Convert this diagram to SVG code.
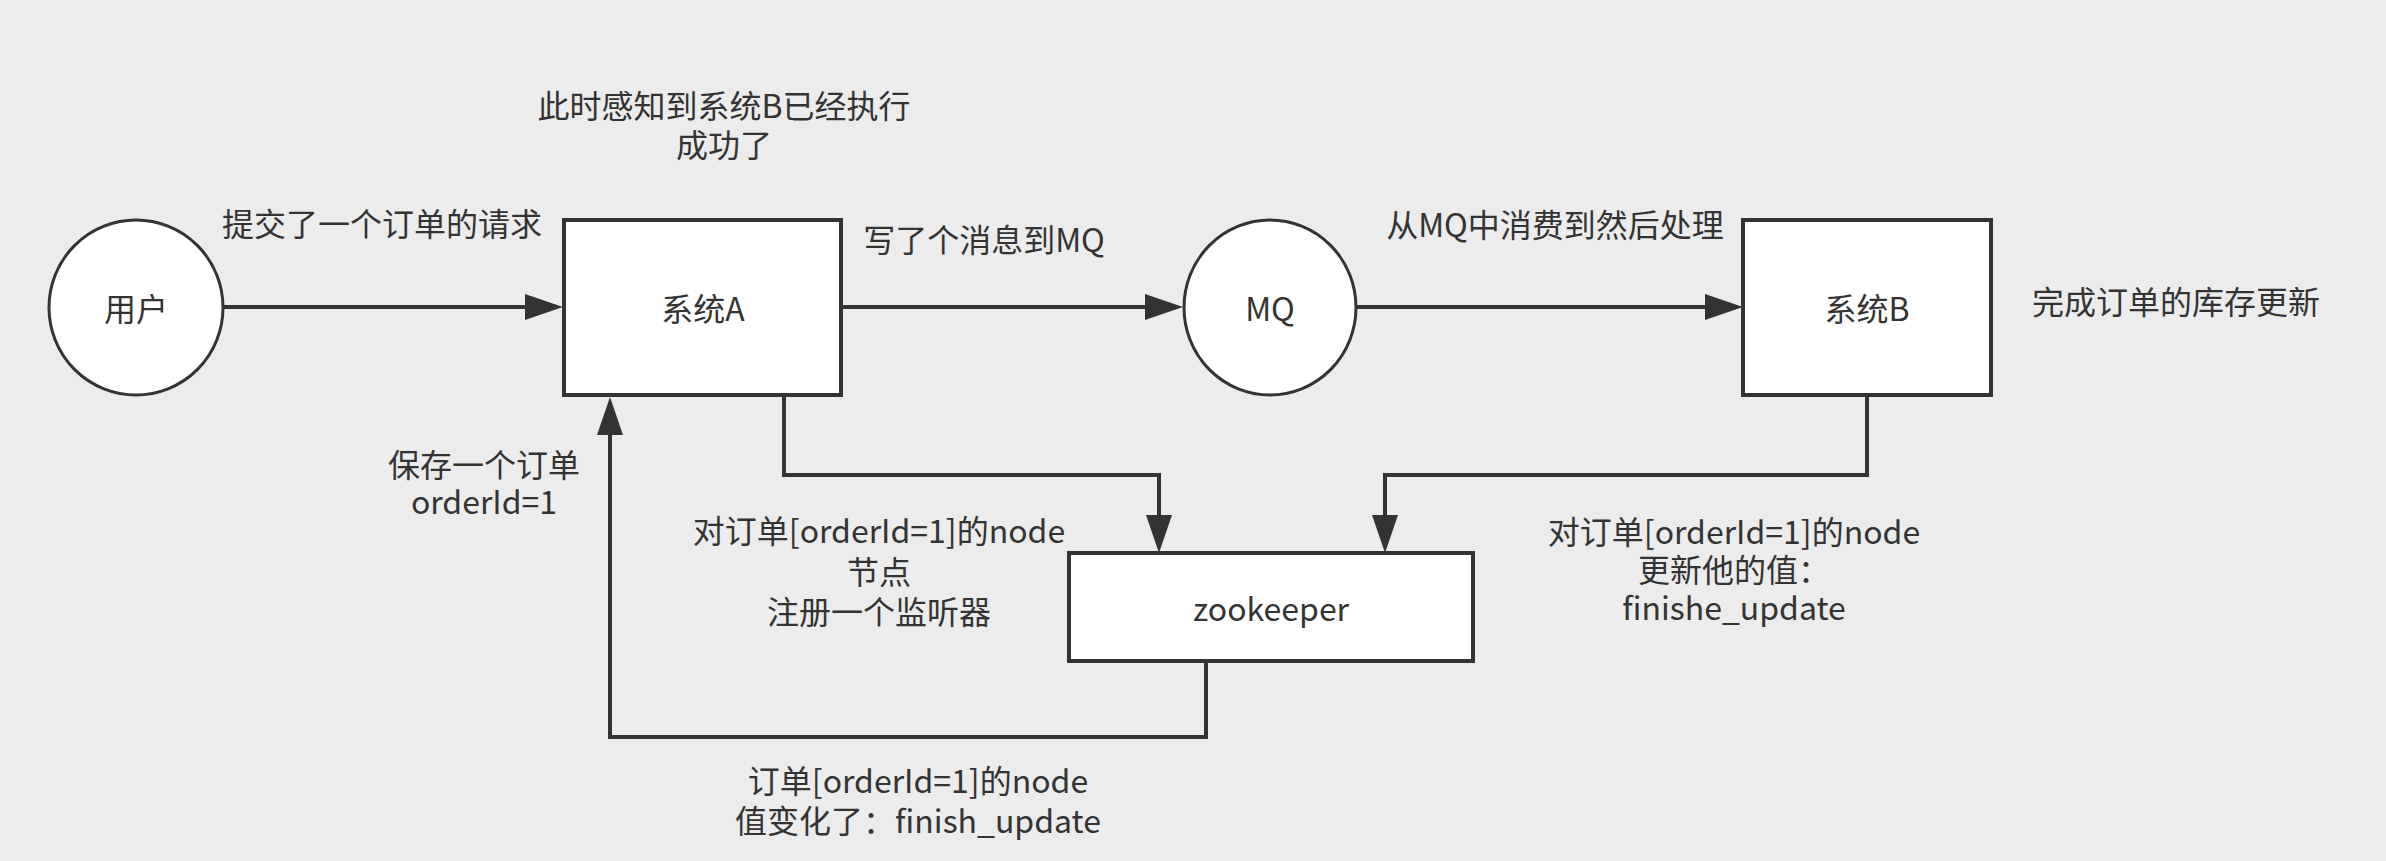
<svg xmlns="http://www.w3.org/2000/svg" width="2386" height="861" viewBox="0 0 2386 861">
<style>
.bg{fill:#ececec}
.box{fill:#fff;stroke:#333;stroke-width:4}
.ell{fill:#fff;stroke:#333;stroke-width:3}
.edge{fill:none;stroke:#333;stroke-width:4}
text{font-family:"Noto Sans CJK SC","Noto Sans",sans-serif;font-size:32px;fill:#333;text-anchor:middle;dominant-baseline:central}
</style>
<defs>
<marker id="arr" viewBox="0 0 38 26" refX="0" refY="13" markerWidth="38" markerHeight="26" markerUnits="userSpaceOnUse" orient="auto">
<path d="M0,0 L38,13 L0,26 Z" fill="#333"/>
</marker>
</defs>
<rect class="bg" x="0" y="0" width="2386" height="861"/>
<g id="connectors">
<path class="edge" d="M224,307 H525" marker-end="url(#arr)"/>
<path class="edge" d="M842,307 H1145" marker-end="url(#arr)"/>
<path class="edge" d="M1356,307 H1705" marker-end="url(#arr)"/>
<path class="edge" d="M784,395 V475 H1159 V515" marker-end="url(#arr)"/>
<path class="edge" d="M1867,395 V475 H1385 V515" marker-end="url(#arr)"/>
<path class="edge" d="M1206,661 V737 H610 V435" marker-end="url(#arr)"/>
</g>
<g id="user">
<ellipse class="ell" cx="136" cy="307.5" rx="87" ry="87.5"/>
<text x="136" y="307">用户</text>
</g>
<g id="systemA">
<rect class="box" x="564" y="220" width="277" height="175"/>
<text x="703" y="307">系统A</text>
</g>
<g id="mq">
<ellipse class="ell" cx="1270" cy="307.5" rx="86" ry="87.5"/>
<text x="1270" y="307">MQ</text>
</g>
<g id="systemB">
<rect class="box" x="1743" y="220" width="248" height="175"/>
<text x="1867" y="307">系统B</text>
</g>
<g id="zookeeper">
<rect class="box" x="1069" y="553" width="404" height="108"/>
<text x="1271" y="607">zookeeper</text>
</g>
<g id="labels">
<text><tspan x="724" y="104">此时感知到系统B已经执行</tspan><tspan x="724" y="143">成功了</tspan></text>
<text x="382" y="222">提交了一个订单的请求</text>
<text x="984" y="238">写了个消息到MQ</text>
<text x="1555" y="223">从MQ中消费到然后处理</text>
<text x="2176" y="300">完成订单的库存更新</text>
<text><tspan x="484" y="463">保存一个订单</tspan><tspan x="484" y="500">orderId=1</tspan></text>
<text><tspan x="879" y="529">对订单[orderId=1]的node</tspan><tspan x="879" y="570">节点</tspan><tspan x="879" y="610">注册一个监听器</tspan></text>
<text><tspan x="1734" y="530">对订单[orderId=1]的node</tspan><tspan x="1734" y="568">更新他的值：</tspan><tspan x="1734" y="606">finishe_update</tspan></text>
<text><tspan x="918" y="779">订单[orderId=1]的node</tspan><tspan x="918" y="819">值变化了：finish_update</tspan></text>
</g>
</svg>
